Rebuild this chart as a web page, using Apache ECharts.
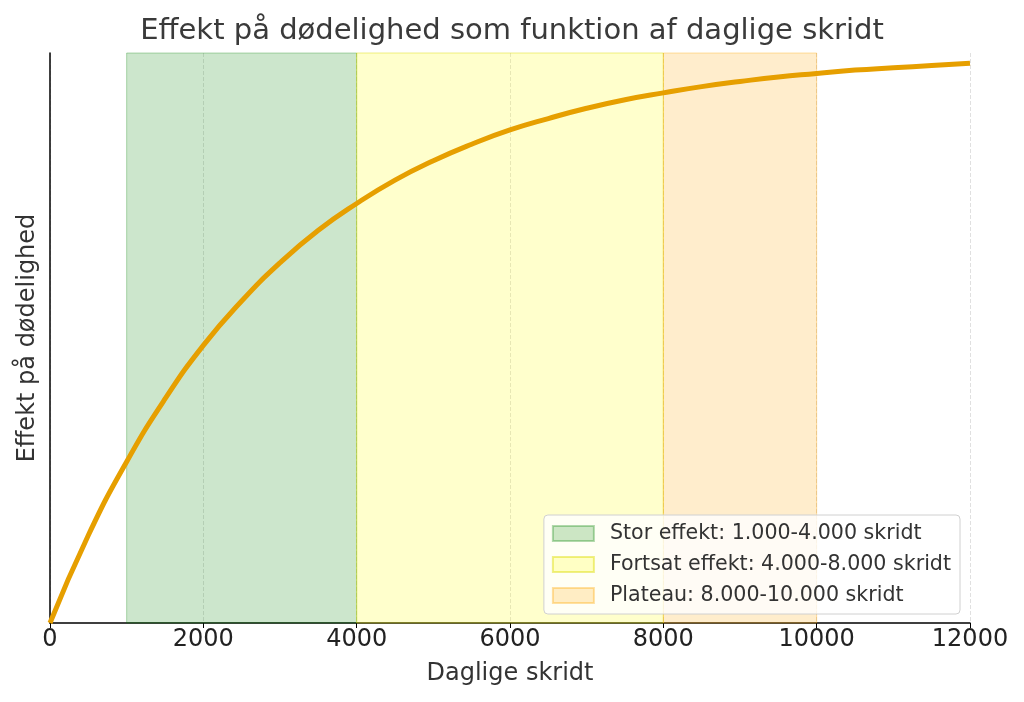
<!DOCTYPE html>
<html><head><meta charset="utf-8">
<script src="https://cdn.jsdelivr.net/npm/echarts@6/dist/echarts.min.js"></script>
<style>html,body{margin:0;padding:0;background:#fff}#c{width:1024px;height:702px}</style>
</head><body><div id="c"></div>
<script>
const steps = [0,500,1000,1500,2000,2500,3000,3500,4000,4500,5000,5500,6000,6500,7000,7500,8000,8500,9000,9500,10000,10500,11000,11500,12000];
const effect = [0,0.154,0.283,0.393,0.487,0.565,0.632,0.689,0.736,0.777,0.811,0.840,0.865,0.885,0.903,0.918,0.930,0.941,0.950,0.958,0.964,0.970,0.974,0.978,0.982];
const bandNames = ['Stor effekt: 1.000-4.000 skridt','Fortsat effekt: 4.000-8.000 skridt','Plateau: 8.000-10.000 skridt'];
const bandStart = [1000,4000,8000];
const bandEnd = [4000,8000,10000];
const bandColors = ['rgba(0,128,0,0.2)','rgba(255,255,0,0.2)','rgba(255,165,0,0.2)'];
const bandBorders = ['rgba(0,128,0,0.3)','rgba(220,220,0,0.45)','rgba(255,165,0,0.35)'];
const xTicks = [0,2000,4000,6000,8000,10000,12000];
const FONT = 'DejaVu Sans';

const chart = echarts.init(document.getElementById('c'));
const bandSeries = bandNames.map((n,i)=>({
  name:n, type:'line', data:[], symbol:'none',
  itemStyle:{color:bandColors[i], borderColor:bandBorders[i], borderWidth:1},
  lineStyle:{color:bandColors[i]},
  markArea:{silent:true, itemStyle:{color:bandColors[i], borderColor:bandBorders[i], borderWidth:1},
    data:[[{xAxis:bandStart[i]},{xAxis:bandEnd[i]}]]}
}));
chart.setOption({
  animation:false,
  textStyle:{fontFamily:FONT},
  title:{text:'Effekt på dødelighed som funktion af daglige skridt', left:'center', top:12,
    textStyle:{fontFamily:FONT,fontSize:29,fontWeight:'normal',color:'#3a3a3a'}},
  grid:{left:50,right:54,top:53,bottom:79},
  legend:{orient:'vertical', right:64, bottom:88, icon:'rect', itemWidth:41, itemHeight:15, itemGap:10,
    padding:[8,9,8,8],
    backgroundColor:'rgba(255,255,255,0.8)', borderColor:'#d0d0d0', borderWidth:1, borderRadius:4,
    textStyle:{fontFamily:FONT,fontSize:20.6,color:'#333',padding:[0,0,0,11]},
    data:bandNames},
  xAxis:{type:'value', min:0, max:12000, interval:2000,
    name:'Daglige skridt', nameLocation:'middle', nameGap:39,
    nameTextStyle:{fontFamily:FONT,fontSize:24,color:'#333'},
    axisLine:{lineStyle:{color:'#000',width:1.5}},
    axisTick:{show:true,length:5,lineStyle:{color:'#000'}},
    axisLabel:{fontFamily:FONT,fontSize:24,color:'#222',margin:5,formatter:v=>String(v)},
    splitLine:{show:true,lineStyle:{type:'dashed',color:'rgba(0,0,0,0.12)',width:1}}},
  yAxis:{type:'value', min:0, max:1,
    name:'Effekt på dødelighed', nameLocation:'middle', nameGap:10, nameRotate:90,
    nameTextStyle:{fontFamily:FONT,fontSize:24,color:'#333'},
    axisLine:{show:true,lineStyle:{color:'#000',width:1.5}},
    axisTick:{show:false}, axisLabel:{show:false}, splitLine:{show:false}},
  series:[...bandSeries,
    {name:'Effekt', type:'line', smooth:true, symbol:'none', z:5,
     lineStyle:{color:'#e69f00',width:5}, data:steps.map((s,i)=>[s,effect[i]])}]
});
</script></body></html>
